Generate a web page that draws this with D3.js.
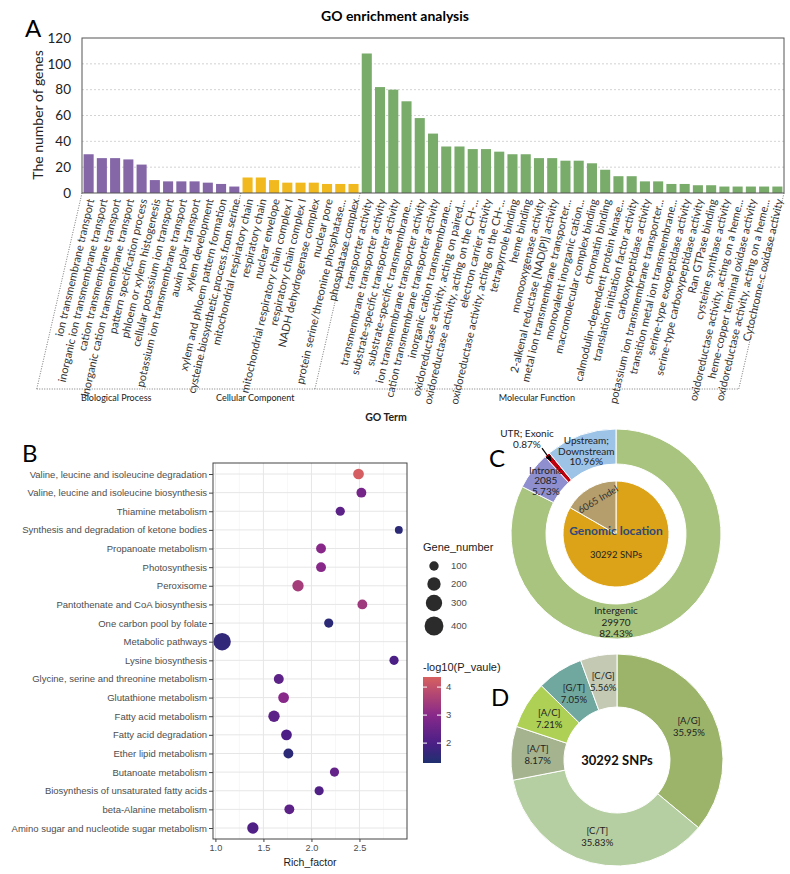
<!DOCTYPE html>
<html><head><meta charset="utf-8">
<script src="https://cdn.jsdelivr.net/npm/d3@7"></script>
<style>body{margin:0;background:#fff}svg{display:block}</style>
</head><body>
<svg id="chart" width="790" height="874"></svg>
<script>
// ---------------- DATA ----------------
const bpTerms = ["ion transmembrane transport","inorganic ion transmembrane transport","cation transmembrane transport","inorganic cation transmembrane transport","pattern specification process","phloem or xylem histogenesis","cellular potassium ion transport","potassium ion transmembrane transport","auxin polar transport","xylem development","xylem and phloem pattern formation","cysteine biosynthetic process from serine"];
const bpCounts = [30,27,27,26,22,10,9,9,9,8,7,5];
const ccTerms = ["mitochondrial respiratory chain","respiratory chain","nuclear envelope","mitochondrial respiratory chain complex I","respiratory chain complex I","NADH dehydrogenase complex","nuclear pore","protein serine/threonine phosphatase...","phosphatase complex"];
const ccCounts = [12,12,10,8,8,8,7,7,7];
const mfTerms = ["transporter activity","transmembrane transporter activity","substrate-specific transporter activity","substrate-specific transmembrane...","ion transmembrane transporter activity","cation transmembrane transporter activity","inorganic cation transmembrane...","oxidoreductase activity, acting on paired...","oxidoreductase activity, acting on the CH-...","electron carrier activity","oxidoreductase activity, acting on the CH-...","tetrapyrrole binding","heme binding","monooxygenase activity","2-alkenal reductase [NAD(P)] activity","metal ion transmembrane transporter...","monovalent inorganic cation...","macromolecular complex binding","chromatin binding","calmodulin-dependent protein kinase...","translation initiation factor activity","carboxypeptidase activity","potassium ion transmembrane transporter...","transition metal ion transmembrane...","serine-type exopeptidase activity","serine-type carboxypeptidase activity","Ran GTPase binding","cysteine synthase activity","oxidoreductase activity, acting on a heme...","heme-copper terminal oxidase activity","oxidoreductase activity, acting on a heme...","Cytochrome-c oxidase activity"];
const mfCounts = [108,82,80,71,58,46,36,36,34,34,32,30,30,27,27,25,25,23,18,13,13,9,9,7,7,6,6,5,5,5,5,5];
const goGroupNames = ["Biological Process","Cellular Component","Molecular Function"];
const goGroupColors = ["#8567a8","#f1b91d","#79ab6b"];
const goYTicks = [0,20,40,60,80,100,120];

const keggPathways = ["Valine, leucine and isoleucine degradation","Valine, leucine and isoleucine biosynthesis","Thiamine metabolism","Synthesis and degradation of ketone bodies","Propanoate metabolism","Photosynthesis","Peroxisome","Pantothenate and CoA biosynthesis","One carbon pool by folate","Metabolic pathways","Lysine biosynthesis","Glycine, serine and threonine metabolism","Glutathione metabolism","Fatty acid metabolism","Fatty acid degradation","Ether lipid metabolism","Butanoate metabolism","Biosynthesis of unsaturated fatty acids","beta-Alanine metabolism","Amino sugar and nucleotide sugar metabolism"];
const richFactor = [2.49,2.52,2.30,2.91,2.10,2.10,1.86,2.53,2.18,1.07,2.86,1.66,1.71,1.61,1.74,1.76,2.24,2.08,1.77,1.39];
const geneNumber = [130,110,95,70,110,110,145,110,95,340,95,110,130,145,130,110,95,95,110,145];
const negLog10P = [4.3,2.7,2.3,1.5,3.0,3.0,3.5,3.4,1.5,1.6,2.0,2.3,3.0,2.3,2.0,1.5,2.4,2.1,2.3,2.1];
const richTicks = [1.0,1.5,2.0,2.5];
const sizeBreaks = [100,200,300,400];
const colorBreaks = [2,3,4];

const locationLines = [["Intergenic"],["Intronic"],["UTR; Exonic"],["Upstream;","Downstream"]];
const locationCounts = [29970,2085,null,null];
const locationPercents = [82.43,5.73,0.87,10.96];
const locationColors = ["#a9c47e","#8f8fd0","#c0000f","#9dc3e7"];
const variantTypes = ["SNPs","Indel"];
const variantCounts = [30292,6065];
const variantColors = ["#dca318","#b59d6c"];

const snpTypes = ["[A/G]","[C/T]","[A/T]","[A/C]","[G/T]","[C/G]"];
const snpPercents = [35.95,35.83,8.17,7.21,7.05,5.56];
const snpColors = ["#9bb46a","#b5cfa2","#a5b48e","#add055","#70a8a0","#c3c9b3"];

// ---------------- SETUP ----------------
const svg = d3.select("#chart");
svg.append("rect").attr("width",790).attr("height",874).attr("fill","#fff");
const CAL = "Lato, 'Open Sans', sans-serif";
const ARI = "'Liberation Sans', Arial, sans-serif";

// ---------------- PANEL A ----------------
const goData = [];
[[bpTerms,bpCounts],[ccTerms,ccCounts],[mfTerms,mfCounts]].forEach((g,gi)=>{
  g[0].forEach((t,i)=>goData.push({term:t,count:g[1][i],group:gi,idx:goData.length}));
});
const A = svg.append("g");
const ax = d3.scaleBand().domain(goData.map(d=>d.idx)).range([82,784]).paddingInner(0.24).paddingOuter(0.12);
const ay = d3.scaleLinear().domain([0,120]).range([193,38]);

A.append("text").attr("x",25).attr("y",37).attr("font-family",CAL).attr("font-size",24).text("A");
A.append("text").attr("x",395).attr("y",21).attr("text-anchor","middle").attr("font-family",CAL)
  .attr("font-weight","bold").attr("font-size",14).text("GO enrichment analysis");

// grid
A.append("g").selectAll("line").data(goYTicks.filter(t=>t>0&&t<120)).join("line")
  .attr("x1",82).attr("x2",784).attr("y1",d=>ay(d)).attr("y2",d=>ay(d))
  .attr("stroke","#c8c8c8").attr("stroke-dasharray","2,2").attr("stroke-width",0.8);

// y axis
const yAxisA = A.append("g").attr("transform","translate(82,0)")
  .call(d3.axisLeft(ay).tickValues(goYTicks).tickSize(0).tickPadding(11));
yAxisA.select(".domain").remove();
yAxisA.selectAll("text").attr("font-family",CAL).attr("font-size",13.5).attr("fill","#222");
A.append("text").attr("transform","translate(43,115) rotate(-90)").attr("text-anchor","middle")
  .attr("font-family",CAL).attr("font-size",14).attr("fill","#222").text("The number of genes");

// bars
A.append("g").selectAll("rect").data(goData).join("rect")
  .attr("x",d=>ax(d.idx)).attr("width",ax.bandwidth())
  .attr("y",d=>ay(d.count)).attr("height",d=>ay(0)-ay(d.count))
  .attr("fill",d=>goGroupColors[d.group]);

// frame
A.append("rect").attr("x",82).attr("y",38).attr("width",702).attr("height",155)
  .attr("fill","none").attr("stroke","#555").attr("stroke-width",1);

// x labels
const ang = 77, rad = ang*Math.PI/180;
A.append("g").selectAll("text").data(goData).join("text")
  .attr("transform",d=>`translate(${ax(d.idx)+ax.bandwidth()/2+2},199) rotate(${-ang})`)
  .attr("text-anchor","end").attr("dy","0.35em")
  .attr("font-family",CAL).attr("font-size",11).attr("fill","#333").text(d=>d.term);

// group separators
const groupStart = goGroupNames.map((g,gi)=>{
  const first = goData.find(d=>d.group===gi);
  return gi===0 ? ax.range()[0] : ax(first.idx) - ax.step()*ax.paddingInner()/2;
});
const bounds = groupStart.concat([ax.range()[1]]);
const yTop = 193, yBot = 389, dxSlant = (yBot-yTop)/Math.tan(rad);
A.append("g").selectAll("line").data(bounds).join("line")
  .attr("x1",d=>d).attr("y1",yTop).attr("x2",d=>d-dxSlant).attr("y2",yBot)
  .attr("stroke","#555").attr("stroke-width",0.8).attr("stroke-dasharray","1,1.5");
A.append("line").attr("x1",bounds[0]-dxSlant).attr("x2",bounds[3]-dxSlant).attr("y1",yBot).attr("y2",yBot)
  .attr("stroke","#555").attr("stroke-width",0.8).attr("stroke-dasharray","1,1.5");
A.append("g").selectAll("text").data(goGroupNames).join("text")
  .attr("x",(d,i)=>(bounds[i]+bounds[i+1])/2 - dxSlant + (i===2?10:0)).attr("y",401)
  .attr("text-anchor","middle").attr("font-family",CAL).attr("font-size",9).attr("fill","#222").text(d=>d);
A.append("text").attr("x",386).attr("y",421).attr("text-anchor","middle").attr("font-family",CAL)
  .attr("font-weight","bold").attr("font-size",10.5).attr("fill","#222").text("GO Term");

// ---------------- PANEL B ----------------
const B = svg.append("g");
const bx = d3.scaleLinear().domain([0.975,2.995]).range([213,407]);
const by = d3.scalePoint().domain(keggPathways).range([474,828]);
const bSize = d3.scaleSqrt().domain([0,450]).range([0,10]);
const bColor = d3.scaleLinear().domain([1.29,2.0,3.0,4.36]).range(["#1f2f6f","#4b1f86","#88298a","#d7605f"]);

B.append("text").attr("x",22).attr("y",462).attr("font-family",CAL).attr("font-size",24).text("B");
// grid
const minorX = d3.range(1.25,3.0,0.5);
B.append("g").selectAll("line").data(minorX).join("line")
  .attr("x1",d=>bx(d)).attr("x2",d=>bx(d)).attr("y1",463).attr("y2",839)
  .attr("stroke","#f2f2f2").attr("stroke-width",0.6);
B.append("g").selectAll("line").data(richTicks).join("line")
  .attr("x1",d=>bx(d)).attr("x2",d=>bx(d)).attr("y1",463).attr("y2",839)
  .attr("stroke","#e6e6e6").attr("stroke-width",1);
B.append("g").selectAll("line").data(keggPathways).join("line")
  .attr("x1",213).attr("x2",407).attr("y1",d=>by(d)).attr("y2",d=>by(d))
  .attr("stroke","#e6e6e6").attr("stroke-width",1);
// points
B.append("g").selectAll("circle").data(keggPathways).join("circle")
  .attr("cx",(d,i)=>bx(richFactor[i])).attr("cy",d=>by(d))
  .attr("r",(d,i)=>bSize(geneNumber[i])).attr("fill",(d,i)=>bColor(negLog10P[i]));
B.append("rect").attr("x",213).attr("y",463).attr("width",194).attr("height",376)
  .attr("fill","none").attr("stroke","#444").attr("stroke-width",1);
// axes
const byAxis = B.append("g").attr("transform","translate(213,0)").call(d3.axisLeft(by).tickSize(4).tickPadding(2));
byAxis.select(".domain").remove();
byAxis.selectAll("line").attr("stroke","#444");
byAxis.selectAll("text").attr("font-family",ARI).attr("font-size",9.5).attr("fill","#4d4d4d");
const bxAxis = B.append("g").attr("transform","translate(0,839)")
  .call(d3.axisBottom(bx).tickValues(richTicks).tickFormat(d3.format(".1f")).tickSize(3).tickPadding(2));
bxAxis.select(".domain").remove();
bxAxis.selectAll("line").attr("stroke","#444");
bxAxis.selectAll("text").attr("font-family",ARI).attr("font-size",9.2).attr("fill","#4d4d4d");
B.append("text").attr("x",310).attr("y",866).attr("text-anchor","middle").attr("font-family",ARI)
  .attr("font-size",10.5).attr("fill","#1a1a1a").text("Rich_factor");

// size legend
B.append("text").attr("x",423).attr("y",551).attr("font-family",ARI).attr("font-size",11).attr("fill","#1a1a1a").text("Gene_number");
const sizeY = [566,584,603,626];
B.append("g").selectAll("circle").data(sizeBreaks).join("circle")
  .attr("cx",434).attr("cy",(d,i)=>sizeY[i]).attr("r",d=>bSize(d)).attr("fill","#2b2b2b");
B.append("g").selectAll("text").data(sizeBreaks).join("text")
  .attr("x",451).attr("y",(d,i)=>sizeY[i]).attr("dy","0.35em").attr("font-family",ARI)
  .attr("font-size",9.5).attr("fill","#4d4d4d").text(d=>d);

// colour legend
B.append("text").attr("x",423).attr("y",671).attr("font-family",ARI).attr("font-size",11).attr("fill","#1a1a1a").text("-log10(P_vaule)");
const cbY = d3.scaleLinear().domain([1.29,4.36]).range([763,677]);
const grad = svg.append("defs").append("linearGradient").attr("id","cbar")
  .attr("x1",0).attr("y1",1).attr("x2",0).attr("y2",0);
grad.selectAll("stop").data(d3.range(0,1.0001,0.05)).join("stop")
  .attr("offset",d=>d).attr("stop-color",d=>bColor(1.29+d*(4.36-1.29)));
B.append("rect").attr("x",423).attr("y",677).attr("width",18).attr("height",86).attr("fill","url(#cbar)");
B.append("g").selectAll("line").data(colorBreaks.flatMap(v=>[[v,423,427],[v,437,441]])).join("line")
  .attr("x1",d=>d[1]).attr("x2",d=>d[2]).attr("y1",d=>cbY(d[0])).attr("y2",d=>cbY(d[0]))
  .attr("stroke","#fff").attr("stroke-width",1);
B.append("g").selectAll("text").data(colorBreaks).join("text")
  .attr("x",446).attr("y",d=>cbY(d)).attr("dy","0.35em").attr("font-family",ARI)
  .attr("font-size",9.5).attr("fill","#4d4d4d").text(d=>d);

// ---------------- PANEL C ----------------
const C = svg.append("g").attr("transform","translate(616,534)");
svg.append("text").attr("x",489).attr("y",467).attr("font-family",CAL).attr("font-size",24).text("C");
const pieC = d3.pie().sort(null).value(d=>d);
const ringArc = d3.arc().innerRadius(70).outerRadius(105);
const ringArcs = pieC(locationPercents);
C.append("g").selectAll("path").data(ringArcs).join("path")
  .attr("d",ringArc).attr("fill",(d,i)=>locationColors[i]).attr("stroke","#fff").attr("stroke-width",1);
const pieArc = d3.arc().innerRadius(0).outerRadius(53);
const innerArcs = pieC(variantCounts);
C.append("g").selectAll("path").data(innerArcs).join("path")
  .attr("d",pieArc).attr("fill",(d,i)=>variantColors[i]).attr("stroke","#fff").attr("stroke-width",1);

// ring labels
ringArcs.forEach((a,i)=>{
  const span = a.endAngle-a.startAngle;
  const mid = span>Math.PI ? Math.PI : (a.startAngle+a.endAngle)/2;
  const lines = locationLines[i].concat(locationCounts[i]!=null?[String(locationCounts[i])]:[]).concat([locationPercents[i].toFixed(2)+"%"]);
  if (span < 0.1) {
    // small slice: label outside with arrow
    const r0 = 96;
    const tip = [r0*Math.sin(mid), -r0*Math.cos(mid)];
    const lx = tip[0]-26, ly = tip[1]-24.5;
    C.append("g").selectAll("text").data(lines).join("text")
      .attr("x",lx).attr("y",(d,j)=>ly+j*11).attr("text-anchor","middle")
      .attr("font-family",CAL).attr("font-size",10).attr("fill","#222").text(d=>d);
    C.append("defs").append("marker").attr("id","arrowC").attr("viewBox","0 0 10 10").attr("refX",9).attr("refY",5)
      .attr("markerWidth",5).attr("markerHeight",5).attr("orient","auto")
      .append("path").attr("d","M0,0L10,5L0,10z").attr("fill","#000");
    C.append("line").attr("x1",tip[0]-11).attr("y1",tip[1]-13.5).attr("x2",tip[0]-2).attr("y2",tip[1]-1)
      .attr("stroke","#000").attr("stroke-width",1.2).attr("marker-end","url(#arrowC)");
  } else {
    const r = 88;
    const cx = r*Math.sin(mid), cy = -r*Math.cos(mid);
    const lh = span>Math.PI ? 11.5 : 10.5;
    const n = lines.length;
    C.append("g").selectAll("text").data(lines).join("text")
      .attr("x",cx).attr("y",(d,j)=>cy+(j-(n-1)/2)*lh).attr("dy","0.35em").attr("text-anchor","middle")
      .attr("font-family",CAL).attr("font-size",10).attr("fill","#222").text(d=>d);
  }
});
C.append("text").attr("x",0).attr("y",1).attr("text-anchor","middle").attr("font-family",CAL)
  .attr("font-weight","bold").attr("font-size",12).attr("fill","#2e4a7a").text("Genomic location");
C.append("text").attr("x",0).attr("y",21).attr("dy","0.35em").attr("text-anchor","middle").attr("font-family",CAL)
  .attr("font-size",9.5).attr("fill","#222").text(variantCounts[0]+" "+variantTypes[0]);
{
  const a = innerArcs[1], mid=(a.startAngle+a.endAngle)/2, r=40;
  C.append("text").attr("transform",`translate(${r*Math.sin(mid)+2},${-r*Math.cos(mid)}) rotate(-31)`)
    .attr("text-anchor","middle").attr("dy","0.35em").attr("font-family",CAL).attr("font-size",9.5).attr("fill","#333")
    .text(variantCounts[1]+" "+variantTypes[1]);
}

// ---------------- PANEL D ----------------
const D = svg.append("g").attr("transform","translate(617,760)");
svg.append("text").attr("x",491).attr("y",706).attr("font-family",CAL).attr("font-size",24).text("D");
const dArc = d3.arc().innerRadius(53).outerRadius(106);
const dArcs = d3.pie().sort(null).value(d=>d)(snpPercents);
D.append("g").selectAll("path").data(dArcs).join("path")
  .attr("d",dArc).attr("fill",(d,i)=>snpColors[i]).attr("stroke","#fff").attr("stroke-width",1);
dArcs.forEach((a,i)=>{
  const c = dArc.centroid(a);
  D.append("text").attr("x",c[0]).attr("y",c[1]-6).attr("dy","0.35em").attr("text-anchor","middle")
    .attr("font-family",CAL).attr("font-size",9.5).attr("fill","#222").text(snpTypes[i]);
  D.append("text").attr("x",c[0]).attr("y",c[1]+6).attr("dy","0.35em").attr("text-anchor","middle")
    .attr("font-family",CAL).attr("font-size",9.5).attr("fill","#222").text(snpPercents[i].toFixed(2)+"%");
});
D.append("text").attr("x",0).attr("y",0).attr("dy","0.35em").attr("text-anchor","middle").attr("font-family",CAL)
  .attr("font-weight","bold").attr("font-size",13).attr("fill","#111").text(variantCounts[0]+" "+variantTypes[0]);
</script>
</body></html>
